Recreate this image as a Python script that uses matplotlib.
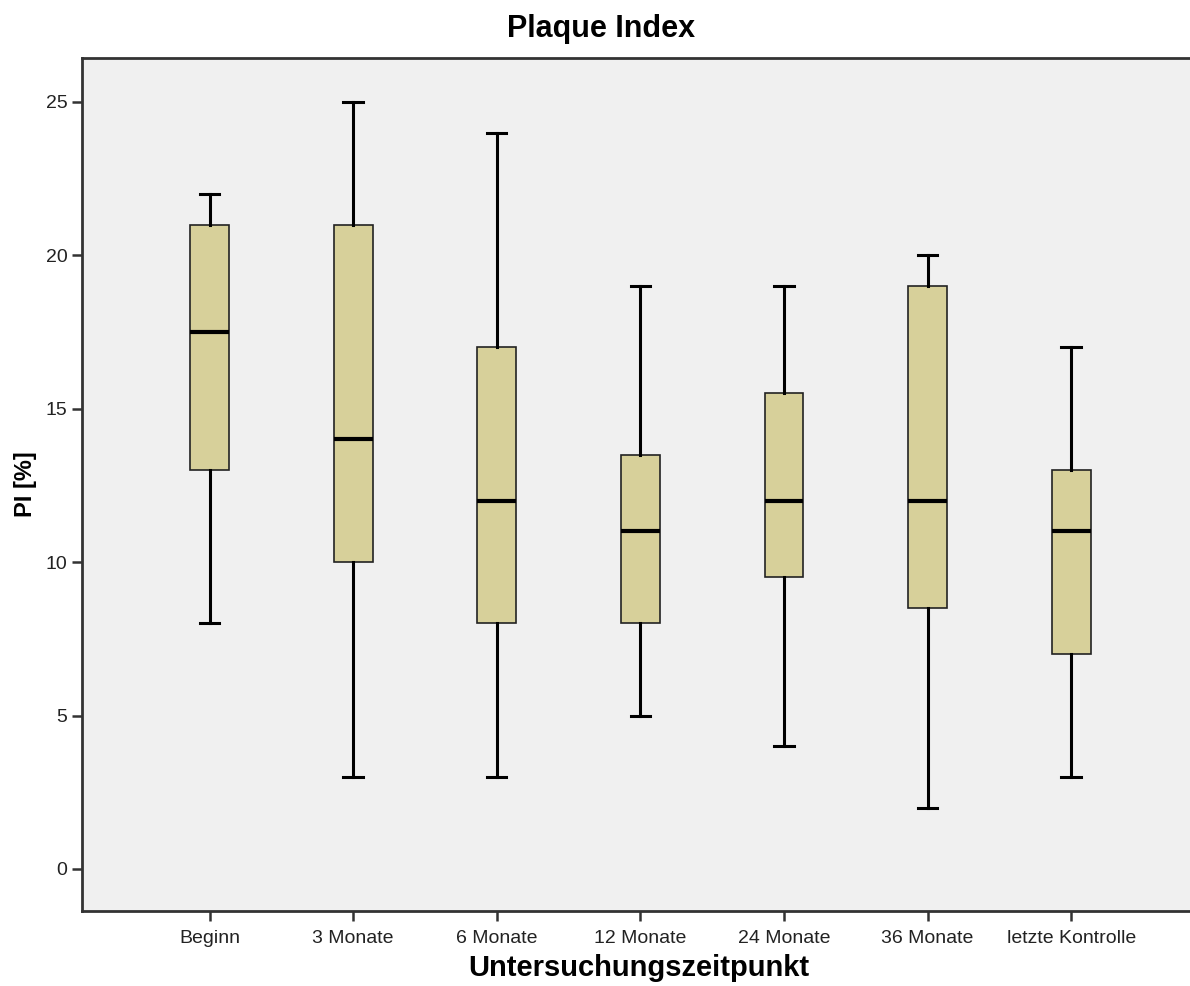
import matplotlib.pyplot as plt
import numpy as np

plt.rcParams['font.family'] = ['Liberation Sans', 'DejaVu Sans']

labels = ["Beginn", "3 Monate", "6 Monate", "12 Monate", "24 Monate",
          "36 Monate", "letzte Kontrolle"]
whislo = [8, 3, 3, 5, 4, 2, 3]
q1     = [13, 10, 8, 8, 9.5, 8.5, 7]
med    = [17.5, 14, 12, 11, 12, 12, 11]
q3     = [21, 21, 17, 13.5, 15.5, 19, 13]
whishi = [22, 25, 24, 19, 19, 20, 17]
yticks = [0, 5, 10, 15, 20, 25]

stats = []
for lab, lo, a, m, b, hi in zip(labels, whislo, q1, med, q3, whishi):
    stats.append(dict(label=lab, whislo=lo, q1=a, med=m, q3=b, whishi=hi, fliers=[]))

fig = plt.figure(figsize=(11.9, 9.86), dpi=100)
ax = fig.add_axes([0.0689, 0.0761, 0.935, 0.8651])
ax.set_facecolor('#f0f0f0')

pos = np.arange(len(labels))
ax.bxp(stats, positions=pos, widths=0.27, capwidths=0.135, patch_artist=True,
       showfliers=False,
       boxprops=dict(facecolor='#d7d09a', edgecolor='#222222', linewidth=1.2),
       medianprops=dict(color='black', linewidth=3),
       whiskerprops=dict(color='black', linewidth=2.2),
       capprops=dict(color='black', linewidth=2.2))

ax.set_xlim(-0.888, 6.86)
ax.set_ylim(-1.37, 26.43)
ax.set_xticks(pos)
ax.set_xticklabels(labels, fontsize=14, color='#222222')
ax.set_yticks(yticks)
ax.set_yticklabels([str(v) for v in yticks], fontsize=14, color='#222222')
ax.tick_params(axis='both', length=7, width=1.8, color='#333333')
ax.tick_params(axis='x', pad=7)

for s in ['left', 'bottom', 'top']:
    ax.spines[s].set_linewidth(2)
    ax.spines[s].set_color('#333333')
ax.spines['right'].set_visible(False)

ax.set_xlabel('Untersuchungszeitpunkt', fontsize=21, fontweight='bold', labelpad=5)
ax.set_ylabel('PI [%]', fontsize=17, fontweight='bold', labelpad=6)
fig.text(0.505, 0.971, 'Plaque Index', fontsize=22, fontweight='bold',
         ha='center', va='center')

fig.savefig('out.png', dpi=100)
